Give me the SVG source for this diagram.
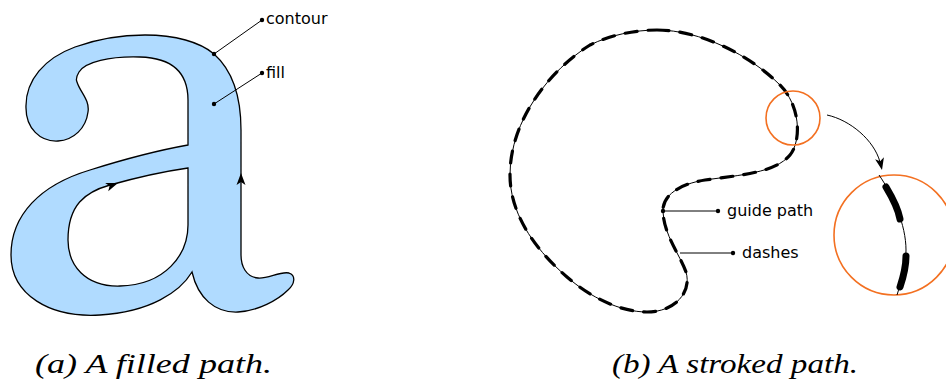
<svg xmlns="http://www.w3.org/2000/svg" width="946" height="380" viewBox="0 0 946 380">
  <style>
    .label { font-family: "DejaVu Sans", "Liberation Sans", sans-serif; font-size: 16px; fill: #000; }
    .caption { font-family: "Liberation Serif", "DejaVu Serif", serif; font-style: italic; font-size: 27px; fill: #000; }
    .leader { stroke: #000; stroke-width: 1; fill: none; }
    .guide { stroke: #000; stroke-width: 1; fill: none; }
    .dash { stroke: #000; stroke-width: 3.2; fill: none; stroke-linecap: round; stroke-dasharray: 12 11; }
    .lens { stroke: #f37021; stroke-width: 1.6; fill: none; }
  </style>
  <defs>
    <!-- shared arrow tip, pointing along +x -->
    <path id="tip" d="M0,0 L-12,-4.5 L-9,0 L-12,4.5 Z" fill="#000"/>
    <!-- the closed curve that is drawn thin and then dashed -->
    <path id="blob"
      d="M 657,30
         C 700,30 750,55 780,85
         C 800,105 802,140 790,155
         C 775,173 740,175 705,180
         C 680,184 662,195 663,212
         C 664,235 680,255 686,272
         C 692,292 675,312 647,312
         C 620,312 590,297 567,277
         C 530,245 510,210 510,175
         C 510,120 550,70 590,45
         C 610,35 635,30 657,30 Z"/>
  </defs>

  <rect width="946" height="380" fill="#fff"/>

  <!-- (a) filled glyph -->
  <g id="glyph-a">
    <path fill="#b0dbff" stroke="#000" stroke-width="1.3" fill-rule="evenodd"
      d="M 77,82
         C 80,92 90,100 88,112
         C 86,128 74,140 58,141
         C 40,142 26,128 26,108
         C 25,80 45,58 75,47
         C 100,38 125,35 145,35
         C 175,35 200,42 214,54
         C 232,70 241,95 241,130
         L 241,255
         C 241,266 246,277 258,278
         C 268,279 280,271 289,273
         C 296,275 295,284 288,290
         C 278,300 258,311 238,312
         C 215,313 198,298 192,272
         C 180,292 150,312 100,315
         C 50,318 11,295 11,255
         C 11,215 40,185 90,170
         C 125,159 160,150 188,145
         L 188,100
         C 188,75 175,58 140,57
         C 110,56 85,62 79,72
         C 76,77 76,80 77,82 Z
         M 188,168
         L 188,225
         C 188,255 165,285 120,286
         C 85,287 68,265 68,240
         C 68,205 85,192 110,185
         C 135,178 160,172 188,168 Z"/>
    <use href="#tip" transform="translate(118,183) rotate(-20)"/>
    <use href="#tip" transform="translate(241,173) rotate(-90)"/>
  </g>

  <g id="label-contour">
    <line class="leader" x1="214" y1="54" x2="262" y2="20"/>
    <circle cx="214" cy="54" r="2.2"/>
    <circle cx="262" cy="20" r="2.2"/>
    <text class="label" x="266" y="24">contour</text>
  </g>

  <g id="label-fill">
    <line class="leader" x1="214" y1="104" x2="262" y2="73"/>
    <circle cx="214" cy="104" r="2.2"/>
    <circle cx="262" cy="73" r="2.2"/>
    <text class="label" x="266" y="78">fill</text>
  </g>

  <!-- (b) stroked path: thin guide plus dashes laid along it -->
  <g id="stroked-path">
    <use href="#blob" class="guide"/>
    <use href="#blob" class="dash"/>
  </g>

  <g id="label-guide">
    <line class="leader" x1="663" y1="211" x2="718" y2="211"/>
    <circle cx="663" cy="211" r="2.2"/>
    <circle cx="718" cy="211" r="2.2"/>
    <text class="label" x="727" y="216">guide path</text>
  </g>

  <g id="label-dashes">
    <line class="leader" x1="680" y1="253" x2="733" y2="253"/>
    <circle cx="733" cy="253" r="2.2"/>
    <text class="label" x="742" y="258">dashes</text>
  </g>

  <g id="lens-small">
    <circle class="lens" cx="793" cy="118" r="27"/>
  </g>

  <g id="lens-large">
    <circle class="lens" cx="894" cy="235" r="60"/>
    <path class="guide" d="M 879,175 C 893,195 906,225 906,250 C 906,268 901,282 897,295"/>
    <path d="M 886,187 C 892,197 898,208 900,219" stroke="#000" stroke-width="7" stroke-linecap="round" fill="none"/>
    <path d="M 906,256 C 906,268 903,278 900,287" stroke="#000" stroke-width="7" stroke-linecap="round" fill="none"/>
  </g>

  <g id="connectors">
    <path class="leader" d="M 827,115 C 850,120 874,140 880,162"/>
    <use href="#tip" transform="translate(882,170) rotate(78)"/>
  </g>

  <g id="captions">
    <text class="caption" x="35" y="373" textLength="237" lengthAdjust="spacingAndGlyphs">(a) A filled path.</text>
    <text class="caption" x="612" y="373" textLength="246" lengthAdjust="spacingAndGlyphs">(b) A stroked path.</text>
  </g>
</svg>
